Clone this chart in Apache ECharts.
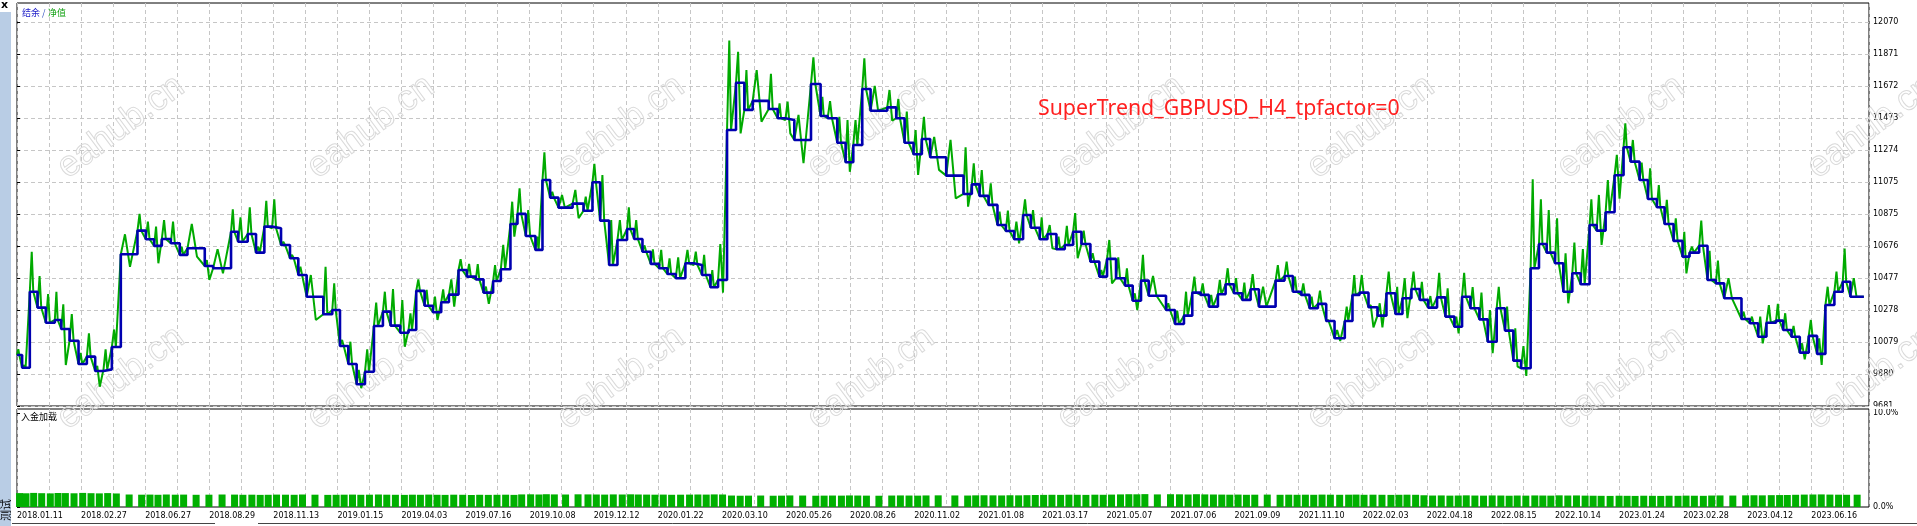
<!DOCTYPE html>
<html>
<head>
<meta charset="utf-8">
<title>SuperTrend_GBPUSD_H4</title>
<script src="https://cdn.jsdelivr.net/npm/echarts@6/dist/echarts.min.js"></script>
<style>
  html, body { margin: 0; padding: 0; background: #fff; }
  #chart { width: 1917px; height: 526px; }
</style>
</head>
<body>
<div id="chart"></div>
<script>
// date shown under every 10th deal slot
const dateLabels = ['2018.01.11', '2018.02.27', '2018.06.27', '2018.08.29', '2018.11.13', '2019.01.15', '2019.04.03',
  '2019.07.16', '2019.10.08', '2019.12.12', '2020.01.22', '2020.03.10', '2020.05.26', '2020.08.26', '2020.11.02',
  '2021.01.08', '2021.03.17', '2021.05.07', '2021.07.06', '2021.09.09', '2021.11.10', '2022.02.03', '2022.04.18',
  '2022.08.15', '2022.10.14', '2023.01.24', '2023.02.28', '2023.04.12', '2023.06.16'];
const yTicks = [9681, 9880, 10079, 10278, 10477, 10676, 10875, 11075, 11274, 11473, 11672, 11871, 12070];
const loadTicks = [0, 10];

// balance after each closed trade (x = deal slot)
const balanceX = [0, 0.8, 2.0, 3.2, 4.5, 5.9, 6.9, 8.2, 9.6, 10.9,
  12.2, 13.5, 14.8, 16.2, 18.8, 20.1, 21.4, 22.6, 24.0, 25.4,
  26.6, 29.3, 30.6, 33.4, 34.5, 36.0, 37.3, 38.6, 39.8, 41.2,
  42.6, 43.9, 45.2, 47.8, 49.2, 50.4, 51.7, 53.0, 54.3, 55.7,
  57.1, 58.3, 59.8, 61.1, 62.3, 63.6, 64.9, 66.2, 67.4, 68.9,
  70.2, 71.6, 72.8, 74.3, 75.5, 77.0, 78.1, 79.4, 80.9, 82.0,
  83.2, 84.5, 86.7, 88.4, 89.8, 91.0, 92.4, 93.7, 95.2, 96.3,
  97.6, 98.9, 100.2, 101.5, 102.8, 104.3, 105.6, 106.9, 108.2, 109.4,
  110.8, 112.2, 113.5, 114.8, 117.3, 118.7, 119.9, 121.3, 123.9, 125.4,
  126.5, 128.0, 129.3, 130.5, 131.9, 133.2, 135.8, 137.2, 138.5, 139.9,
  141.2, 142.5, 145.0, 147.7, 149.0, 150.2, 151.6, 153.0, 154.3, 155.6,
  157.0, 158.2, 159.6, 160.8, 162.2, 163.5, 164.8, 166.1, 167.5, 168.9,
  170.1, 171.5, 172.9, 174.1, 175.4, 176.6, 179.3, 180.7, 182.1, 183.4,
  184.7, 186.0, 187.4, 188.6, 189.9, 191.2, 192.5, 193.8, 196.4, 197.8,
  199.1, 200.4, 201.7, 203.0, 204.3, 205.6, 207.2, 208.4, 209.5, 210.9,
  212.3, 213.7, 215.1, 216.2, 217.6, 218.9, 220.2, 221.6, 222.9, 224.3,
  225.5, 226.8, 228.2, 229.5, 230.9, 232.2, 233.5, 234.7, 236.2, 237.5,
  238.7, 240.0, 241.3, 242.7, 244.0, 245.4, 246.5, 247.9, 249.3, 250.7,
  251.8, 253.2, 254.5, 255.9, 257.1, 258.5, 259.9, 261.0, 262.5, 263.8,
  265.1, 266.4, 269.1, 270.4, 271.7, 273.0, 274.5, 275.6, 276.9, 278.2,
  279.6, 280.9, 282.2, 283.6, 284.9, 286.1, 288.2];
const balanceY = [9998, 9919, 10392, 10293, 10199, 10216, 10160, 10087, 9942, 9988,
  9899, 9909, 10048, 10625, 10772, 10718, 10677, 10720, 10693, 10621,
  10662, 10552, 10538, 10765, 10703, 10751, 10635, 10797, 10787, 10683,
  10600, 10496, 10361, 10252, 10278, 10054, 9942, 9816, 9894, 10179,
  10268, 10181, 10137, 10154, 10397, 10305, 10264, 10326, 10374, 10527,
  10486, 10469, 10386, 10459, 10532, 10813, 10876, 10739, 10652, 11087,
  10977, 10915, 10940, 10896, 11073, 10834, 10558, 10714, 10782, 10720,
  10641, 10565, 10538, 10502, 10476, 10569, 10558, 10496, 10420, 10465,
  11398, 11692, 11523, 11579, 11529, 11471, 11460, 11336, 11684, 11485,
  11471, 11319, 11197, 11305, 11653, 11518, 11539, 11471, 11319, 11247,
  11342, 11228, 11114, 11000, 11060, 10988, 10932, 10807, 10770, 10718,
  10869, 10790, 10718, 10751, 10656, 10683, 10765, 10689, 10579, 10486,
  10596, 10476, 10430, 10336, 10461, 10367, 10278, 10191, 10243, 10386,
  10372, 10299, 10376, 10438, 10382, 10341, 10407, 10299, 10461, 10490,
  10392, 10372, 10289, 10316, 10210, 10102, 10210, 10372, 10386, 10295,
  10243, 10382, 10253, 10351, 10409, 10341, 10293, 10357, 10237, 10174,
  10361, 10289, 10220, 10081, 10289, 10150, 9963, 9916, 10538, 10689,
  10635, 10569, 10392, 10507, 10438, 10807, 10772, 10886, 11116, 11291,
  11201, 11087, 10969, 10917, 10813, 10708, 10610, 10635, 10678, 10465,
  10444, 10351, 10222, 10196, 10112, 10199, 10212, 10154, 10112, 10013,
  10117, 10005, 10309, 10392, 10454, 10361, 10361];

// highest equity seen while each trade was open
const equityHigh = [10034, 9935, 10641, 10490, 10378, 10392, 10313, 10253, 10011, 10133,
  9930, 10034, 10157, 10749, 10876, 10828, 10797, 10838, 10828, 10672,
  10813, 10589, 10656, 10905, 10855, 10917, 10672, 10957, 10967, 10703,
  10621, 10547, 10496, 10547, 10444, 10092, 10081, 9905, 10034, 10324,
  10392, 10409, 10340, 10258, 10469, 10403, 10361, 10407, 10469, 10594,
  10565, 10563, 10423, 10558, 10683, 10952, 11035, 10900, 10734, 11259,
  11014, 10994, 11025, 10983, 11187, 11118, 10838, 10838, 10917, 10838,
  10680, 10656, 10652, 10600, 10606, 10652, 10641, 10621, 10527, 10689,
  11954, 11885, 11771, 11771, 11747, 11564, 11575, 11492, 11850, 11605,
  11578, 11480, 11460, 11460, 11844, 11672, 11647, 11591, 11513, 11398,
  11480, 11355, 11336, 11290, 11191, 11149, 11066, 10890, 10896, 10828,
  10967, 10900, 10855, 10807, 10734, 10801, 10881, 10772, 10631, 10527,
  10714, 10606, 10538, 10382, 10621, 10490, 10320, 10274, 10392, 10486,
  10444, 10372, 10465, 10538, 10476, 10448, 10502, 10423, 10558, 10579,
  10486, 10444, 10361, 10399, 10216, 10154, 10299, 10496, 10496, 10309,
  10320, 10517, 10423, 10476, 10517, 10454, 10365, 10510, 10413, 10237,
  10510, 10420, 10386, 10278, 10423, 10299, 10164, 10054, 11091, 10967,
  10900, 10849, 10631, 10697, 10658, 10967, 10994, 11087, 11243, 11440,
  11336, 11195, 11160, 11056, 10963, 10849, 10765, 10672, 10834, 10647,
  10585, 10476, 10268, 10237, 10237, 10309, 10316, 10258, 10179, 10071,
  10216, 10102, 10423, 10517, 10660, 10476];

// trades whose equity dipped below the balance, and how low
const dipStep = [6, 10, 13, 16, 20, 21, 22, 32, 37, 42, 46, 48, 52, 55, 62, 79, 81, 83, 86, 87,
  92, 96, 99, 101, 102, 103, 109, 113, 116, 120, 123, 145, 149, 150, 153, 159, 163, 166, 167, 172,
  176, 178, 186, 194, 199, 201];
const dipValue = [9936, 9801, 10547, 10569, 10610, 10465, 10506, 10216, 9792, 10050, 10216, 10299, 10316, 10734, 10849, 10386, 11377, 11450, 11377, 11191,
  11138, 11456, 11118, 11150, 10973, 10921, 10693, 10662, 10600, 10444, 10278, 10085, 10170, 10170, 10227, 10133, 10009, 9926, 9868, 10320,
  10683, 10970, 10506, 10071, 9972, 9936];

// deposit load per trade, %
const loadPct = [1.48, 1.46, 1.50, 1.47, 1.45, 1.49, 1.48, 1.46, 1.50, 1.47, 1.45, 1.48, 1.44,
  1.33, 1.31, 1.32, 1.30, 1.33, 1.31, 1.32, 1.30, 1.31, 1.33, 1.32, 1.30, 1.31, 1.29, 1.30, 1.32, 1.31, 1.30, 1.33, 1.31,
  1.29, 1.30, 1.31, 1.32, 1.30, 1.31, 1.33, 1.31, 1.30, 1.29, 1.31, 1.30, 1.32, 1.30, 1.29, 1.31, 1.30, 1.28, 1.30, 1.29, 1.30, 1.31, 1.29,
  1.34, 1.35, 1.33, 1.36, 1.34, 1.33, 1.35, 1.34, 1.33, 1.32, 1.34, 1.33, 1.35, 1.33, 1.32, 1.31, 1.32, 1.30, 1.31, 1.32, 1.33, 1.32, 1.34, 1.33,
  1.22, 1.20, 1.21, 1.22, 1.20, 1.21, 1.23, 1.22, 1.20, 1.21, 1.22, 1.21, 1.23, 1.22, 1.21, 1.20, 1.22, 1.23, 1.22, 1.21, 1.23, 1.24, 1.23, 1.22, 1.24, 1.25, 1.24, 1.23, 1.25, 1.24, 1.26,
  1.28, 1.29, 1.30, 1.29, 1.31, 1.30, 1.29, 1.31, 1.30, 1.32, 1.34, 1.36, 1.35, 1.37, 1.34, 1.36, 1.35, 1.33, 1.36, 1.34, 1.33, 1.32, 1.31, 1.32, 1.30, 1.31, 1.32, 1.30, 1.31, 1.30,
  1.31, 1.30, 1.32, 1.31, 1.30, 1.31, 1.32, 1.30, 1.31, 1.30, 1.29, 1.30, 1.31, 1.30, 1.25, 1.22, 1.23, 1.21, 1.22, 1.24, 1.22, 1.21, 1.23, 1.22, 1.20, 1.22, 1.21, 1.23, 1.22, 1.21,
  1.24, 1.22, 1.23, 1.21, 1.20, 1.19, 1.18, 1.20, 1.19, 1.18, 1.20, 1.19, 1.18, 1.20, 1.19, 1.21, 1.20, 1.19, 1.22, 1.23, 1.22, 1.24, 1.25, 1.24, 1.26, 1.27, 1.28, 1.30, 1.32, 1.33, 1.34, 1.32, 1.31, 1.30, 1.31];

const last = balanceX.length - 1;
const balanceData = balanceX.map((x, i) => [x, balanceY[i]]);

// equity path: open at the balance, run to the high (and dip if any), close at the next balance
const equityData = [];
for (let i = 0; i < last; i++) {
  const x0 = balanceX[i];
  const w = balanceX[i + 1] - x0;
  equityData.push([x0, balanceY[i]]);
  equityData.push([x0 + w * 0.25, equityHigh[i]]);
  const d = dipStep.indexOf(i);
  if (d >= 0) equityData.push([x0 + w * 0.55, dipValue[d]]);
  else equityData.push([x0 + w * 0.45, balanceY[i]]);
}
equityData.push([balanceX[last], balanceY[last]]);

const loadData = loadPct.map((v, i) => [(balanceX[i] + balanceX[i + 1]) / 2, v]);

const gridLine = { show: true, lineStyle: { color: '#c6c6c6', type: [4, 3], width: 1 } };
const axisFont = { fontFamily: 'DejaVu Sans', fontSize: 8, color: '#000' };

const graphics = [
  { type: 'rect', shape: { x: 0, y: 12, width: 11, height: 514 }, style: { fill: '#b9cde5' } },
  { type: 'text', x: 1, y: 0, style: { text: 'x', font: 'bold 11px DejaVu Sans', fill: '#000' } },
  { type: 'text', x: 6, y: 510, rotation: Math.PI / 2,
    style: { text: '测试', font: '11px "Noto Sans CJK SC"', fill: '#000', textAlign: 'center', textVerticalAlign: 'middle' } },
  { type: 'line', shape: { x1: 12, y1: 523.5, x2: 215, y2: 523.5 }, style: { stroke: '#444', lineWidth: 1 } },
  { type: 'line', shape: { x1: 258, y1: 523.5, x2: 1917, y2: 523.5 }, style: { stroke: '#444', lineWidth: 1 } },
  { type: 'text', x: 22, y: 12.5, z: 10,
    style: { text: '结余', font: '9px "Noto Sans CJK SC"', fill: '#1c1cc8', textVerticalAlign: 'middle' } },
  { type: 'text', x: 42, y: 12.5, z: 10,
    style: { text: '/', font: '9px "Noto Sans CJK SC"', fill: '#3050c0', textVerticalAlign: 'middle' } },
  { type: 'text', x: 48, y: 12.5, z: 10,
    style: { text: '净值', font: '9px "Noto Sans CJK SC"', fill: '#10a010', textVerticalAlign: 'middle' } },
  { type: 'text', x: 21, y: 417, z: 10,
    style: { text: '入金加载', font: '9px "Noto Sans CJK SC"', fill: '#000', textVerticalAlign: 'middle' } },
  { type: 'text', x: 1038, y: 109, z: 10,
    style: { text: 'SuperTrend_GBPUSD_H4_tpfactor=0', font: '21.3px "Noto Sans"', fill: '#ff2020', textVerticalAlign: 'middle' } },
  // hide lower half of the 9681 label, as the terminal clips it
  { type: 'rect', z: 10, shape: { x: 1870, y: 406.5, width: 47, height: 2.5 }, style: { fill: '#fff' } }
];

// eahub.cn watermark grid
for (let k = 0; k < 8; k++) {
  [127, 378].forEach(cy => {
    graphics.push({
      type: 'text', x: 121 + k * 250, y: cy, rotation: 0.64, z: 1, silent: true,
      style: { text: 'eahub.cn', font: '36px "Liberation Sans"', fill: 'rgba(255,255,255,0)', stroke: '#dadada', lineWidth: 1,
        textAlign: 'center', textVerticalAlign: 'middle' }
    });
  });
}

const chart = echarts.init(document.getElementById('chart'));
chart.setOption({
  animation: false,
  backgroundColor: '#fff',
  grid: [
    { left: 17, top: 3, right: 48, bottom: 120, show: true, borderColor: '#000', borderWidth: 1, backgroundColor: '#fff' },
    { left: 17, top: 409, right: 48, bottom: 19, show: true, borderColor: '#000', borderWidth: 1, backgroundColor: '#fff' }
  ],
  xAxis: [
    {
      gridIndex: 0, type: 'value', min: 0, max: 289, interval: 5,
      axisLine: { show: false }, axisTick: { show: false }, axisLabel: { show: false },
      splitLine: gridLine
    },
    {
      gridIndex: 1, type: 'value', min: 0, max: 289, interval: 5,
      axisLine: { show: false }, axisTick: { show: false },
      axisLabel: {
        ...axisFont, align: 'left', margin: 5, showMaxLabel: false,
        formatter: v => {
          const k = Math.round(v);
          return (Math.abs(v - k) < 1e-6 && k % 10 === 0) ? (dateLabels[k / 10] || '') : '';
        }
      },
      splitLine: gridLine
    }
  ],
  yAxis: [
    {
      gridIndex: 0, type: 'value', position: 'right', min: 9681, max: 12188,
      axisLine: { show: false },
      axisTick: { show: true, length: 3, customValues: yTicks, lineStyle: { color: '#000' } },
      axisLabel: { ...axisFont, margin: 4, customValues: yTicks, formatter: v => String(Math.round(v)) },
      splitLine: gridLine
    },
    {
      gridIndex: 1, type: 'value', position: 'right', min: 0, max: 10.43,
      axisLine: { show: false },
      axisTick: { show: true, length: 3, customValues: loadTicks, lineStyle: { color: '#000' } },
      axisLabel: { ...axisFont, margin: 4, customValues: loadTicks, formatter: v => v.toFixed(1) + '%' },
      splitLine: { show: false }
    }
  ],
  series: [
    {
      name: '净值', type: 'line', xAxisIndex: 0, yAxisIndex: 0, data: equityData,
      symbol: 'none', lineStyle: { color: '#00aa00', width: 2 }, z: 3
    },
    {
      name: '结余', type: 'line', xAxisIndex: 0, yAxisIndex: 0, step: 'end', data: balanceData,
      symbol: 'none', lineStyle: { color: '#0000b0', width: 2.6 }, z: 4
    },
    {
      name: '入金加载', type: 'bar', xAxisIndex: 1, yAxisIndex: 1, data: loadData,
      barWidth: 7, itemStyle: { color: '#00b000' }
    }
  ],
  graphic: graphics
});
</script>
</body>
</html>
